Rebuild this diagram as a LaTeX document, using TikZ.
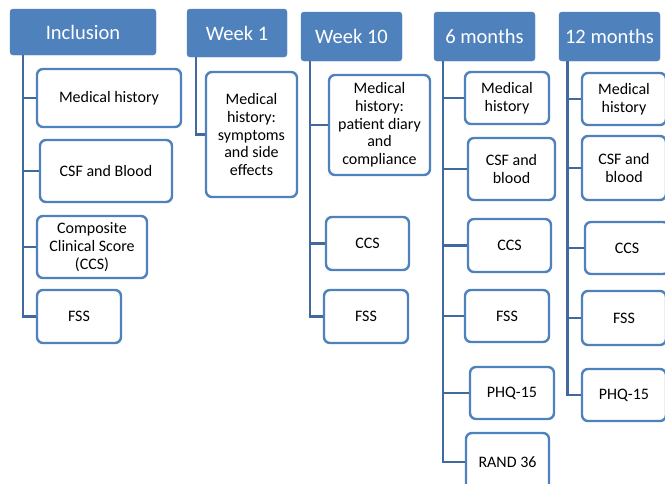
\documentclass[tikz,border=0pt]{standalone}
\usepackage{fontspec}
\setmainfont{Carlito}
\definecolor{hdr}{HTML}{4F81BD}
\definecolor{conn}{HTML}{41699F}
\begin{document}
\begin{tikzpicture}[x=1pt,y=1pt,
  hdrbox/.style={fill=hdr,draw=hdr,rounded corners=3pt,text=white,inner sep=0pt,
     font=\fontsize{20.5}{22}\selectfont},
  itembox/.style={draw=hdr,line width=2.4pt,fill=white,rounded corners=6pt,inner sep=0pt,
     align=center,font=\fontsize{16}{17.7}\selectfont},
  link/.style={draw=conn,line width=2.8pt}]
\useasboundingbox (0,0) rectangle (665,-483);
\clip (0,0) rectangle (665,-483);
% headers
\node[hdrbox,minimum width=146,minimum height=46] (inc) at (83,-32) {Inclusion};
\node[hdrbox,minimum width=100,minimum height=48] (wk1) at (237,-33) {Week 1};
\node[hdrbox,minimum width=101,minimum height=49] (wk10) at (351.5,-36.5) {Week 10};
\node[hdrbox,minimum width=101,minimum height=49] (m6) at (484.5,-36.5) {6 months};
\node[hdrbox,minimum width=101,minimum height=49] (m12) at (609.5,-36.5) {12 months};
% trunk tops
\coordinate (incT) at (23,-55);
\coordinate (wk1T) at (196,-57);
\coordinate (wk10T) at (310,-61);
\coordinate (m6T) at (443,-61);
\coordinate (m12T) at (567.5,-61);
% Inclusion items
\node[itembox,minimum width=144,minimum height=58] (i1) at (109,-98) {Medical history};
\node[itembox,minimum width=132,minimum height=62] (i2) at (106,-171) {CSF and Blood};
\node[itembox,minimum width=110,minimum height=62] (i3) at (92,-247) {Composite\\Clinical Score\\(CCS)};
\node[itembox,minimum width=84,minimum height=53] (i4) at (79,-316.5) {FSS};
% Week 1
\node[itembox,minimum width=91,minimum height=125] (w1) at (251.5,-134.5) {Medical\\history:\\symptoms\\and side\\effects};
% Week 10
\node[itembox,minimum width=101,minimum height=100] (t1) at (379.5,-125) {Medical\\history:\\patient diary\\and\\compliance};
\node[itembox,minimum width=83,minimum height=53] (t2) at (367.5,-243.5) {CCS};
\node[itembox,minimum width=84,minimum height=53] (t3) at (366,-316.5) {FSS};
% 6 months
\node[itembox,minimum width=84,minimum height=52] (s1) at (507,-98) {Medical\\history};
\node[itembox,minimum width=87,minimum height=62] (s2) at (511.5,-169) {CSF and\\blood};
\node[itembox,minimum width=83,minimum height=53] (s3) at (509.5,-245.5) {CCS};
\node[itembox,minimum width=84,minimum height=52] (s4) at (507,-316) {FSS};
\node[itembox,minimum width=84,minimum height=52] (s5) at (512,-393) {PHQ-15};
\node[itembox,minimum width=83,minimum height=58] (s6) at (507.5,-462) {RAND 36};
% 12 months
\node[itembox,minimum width=84,minimum height=52] (n1) at (624,-99) {Medical\\history};
\node[itembox,minimum width=84,minimum height=64] (n2) at (624,-168) {CSF and\\blood};
\node[itembox,minimum width=84,minimum height=52] (n3) at (627,-248) {CCS};
\node[itembox,minimum width=84,minimum height=54] (n4) at (624,-318) {FSS};
\node[itembox,minimum width=84,minimum height=52] (n5) at (624,-395) {PHQ-15};
% connectors
\foreach \t/\b in {incT/i1,incT/i2,incT/i3,incT/i4,wk1T/w1,wk10T/t1,wk10T/t2,wk10T/t3,
  m6T/s1,m6T/s2,m6T/s3,m6T/s4,m6T/s5,m6T/s6,m12T/n1,m12T/n2,m12T/n3,m12T/n4,m12T/n5}
  \draw[link] (\t) |- (\b.west);
\end{tikzpicture}
\end{document}
